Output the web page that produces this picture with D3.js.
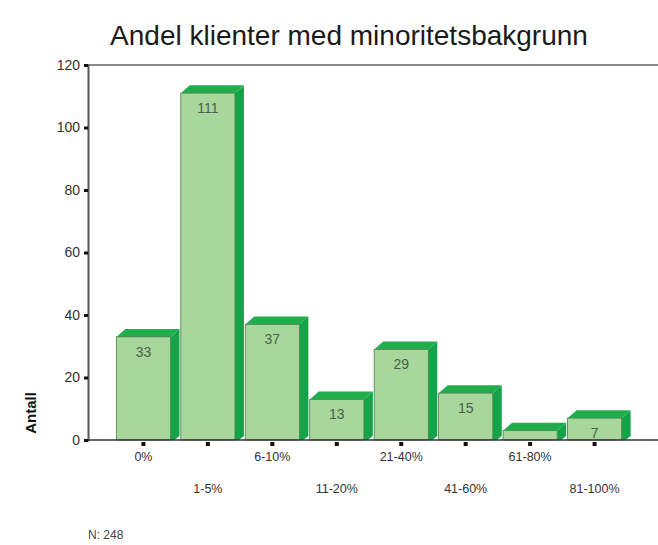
<!DOCTYPE html>
<html>
<head>
<meta charset="utf-8">
<script src="https://cdn.jsdelivr.net/npm/d3@7"></script>
<style>
  body { margin: 0; background: #fff; }
  svg { display: block; font-family: "Liberation Sans", Arial, sans-serif; }
</style>
</head>
<body>
<div id="chart"></div>
<script>
// data
const categories = ['0%', '1-5%', '6-10%', '11-20%', '21-40%', '41-60%', '61-80%', '81-100%']
const counts = [33, 111, 37, 13, 29, 15, 3, 7]
const yTicks = [0, 20, 40, 60, 80, 100, 120]
const titleText = 'Andel klienter med minoritetsbakgrunn'
const yLabel = 'Antall'
const footnote = 'N: 248'

const width = 658, height = 545
const depthX = 9, depthY = 8

const svg = d3.select('#chart').append('svg')
  .attr('width', width)
  .attr('height', height)

const x = d3.scaleBand()
  .domain(categories)
  .range([88, 650])
  .paddingInner(0.16)
  .paddingOuter(0.44)

const y = d3.scaleLinear()
  .domain([0, 120])
  .range([440, 65])

// title
svg.append('text')
  .attr('x', 349).attr('y', 45)
  .attr('text-anchor', 'middle')
  .attr('font-size', 28)
  .attr('fill', '#1a1a1a')
  .text(titleText)

// top frame line at 120
svg.append('line')
  .attr('x1', 88).attr('x2', width)
  .attr('y1', y(120)).attr('y2', y(120))
  .attr('stroke', '#8a8a8a').attr('stroke-width', 2)

// y axis
const yAxis = svg.append('g')
  .attr('transform', 'translate(88,0)')
  .call(d3.axisLeft(y).tickValues(yTicks).tickSize(4).tickPadding(4))
yAxis.select('.domain').attr('stroke', '#555').attr('stroke-width', 2)
yAxis.selectAll('.tick line').attr('stroke', '#111').attr('stroke-width', 3)
yAxis.selectAll('.tick text').attr('font-size', 14).attr('fill', '#333')
  .attr('font-family', '"Liberation Sans", Arial, sans-serif')

svg.append('text')
  .attr('transform', 'translate(36,413) rotate(-90)')
  .attr('text-anchor', 'middle')
  .attr('font-size', 15)
  .attr('font-weight', 'bold')
  .attr('fill', '#111')
  .text(yLabel)

const data = categories.map((c, i) => ({ cat: c, value: counts[i] }))

const bars = svg.append('g').selectAll('g')
  .data(data)
  .enter().append('g')

// side face
bars.append('path')
  .attr('fill', '#13a449')
  .attr('d', d => {
    const x1 = x(d.cat) + x.bandwidth(), y0 = y(0), y1 = y(d.value)
    return `M${x1},${y0}L${x1},${y1}L${x1 + depthX},${y1 - depthY}L${x1 + depthX},${y0 - 4}L${x1 + 4},${y0}Z`
  })

// top face
bars.append('path')
  .attr('fill', '#20ae4d')
  .attr('d', d => {
    const x0 = x(d.cat), x1 = x0 + x.bandwidth(), y1 = y(d.value)
    return `M${x0},${y1}L${x0 + depthX},${y1 - depthY}L${x1 + depthX},${y1 - depthY}L${x1},${y1}Z`
  })

// front face
bars.append('rect')
  .attr('x', d => x(d.cat))
  .attr('y', d => y(d.value))
  .attr('width', x.bandwidth())
  .attr('height', d => y(0) - y(d.value))
  .attr('fill', '#a7d79b')
  .attr('stroke', '#4f7a4f')
  .attr('stroke-width', 0.8)

// value labels
bars.filter(d => d.value >= 5).append('text')
  .attr('x', d => x(d.cat) + x.bandwidth() / 2)
  .attr('y', d => y(d.value) + 20)
  .attr('text-anchor', 'middle')
  .attr('font-size', 14)
  .attr('fill', '#4b5e4b')
  .text(d => d.value)

// baseline
svg.append('line')
  .attr('x1', 88).attr('x2', width)
  .attr('y1', y(0)).attr('y2', y(0))
  .attr('stroke', '#333').attr('stroke-width', 1.5)

// x ticks and staggered labels
const xAxis = svg.append('g')
xAxis.selectAll('rect')
  .data(categories)
  .enter().append('rect')
  .attr('x', d => x(d) + x.bandwidth() / 2 - 2)
  .attr('y', y(0) + 2)
  .attr('width', 4).attr('height', 4)
  .attr('fill', '#111')

xAxis.selectAll('text')
  .data(categories)
  .enter().append('text')
  .attr('x', d => x(d) + x.bandwidth() / 2)
  .attr('y', (d, i) => i % 2 === 0 ? 461 : 493)
  .attr('text-anchor', 'middle')
  .attr('font-size', 12.5)
  .attr('fill', '#333')
  .text(d => d)

svg.append('text')
  .attr('x', 88).attr('y', 539)
  .attr('font-size', 12)
  .attr('fill', '#444')
  .text(footnote)
</script>
</body>
</html>
